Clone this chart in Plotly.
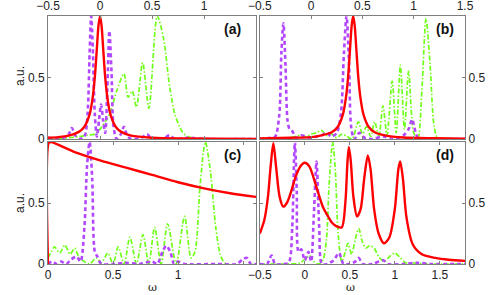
import plotly.graph_objects as go

# ---------------- data ----------------
# Panel (a)
a_red_x = [-0.5, -0.4, -0.3, -0.2, -0.15, -0.1, -0.075, -0.05, -0.03, -0.015, 0.0, 0.015, 0.03, 0.05, 0.075, 0.1, 0.15, 0.2, 0.3, 0.5, 0.8, 1.5]
a_red_y = [0.01, 0.015, 0.027, 0.06, 0.1, 0.2, 0.31, 0.5, 0.74, 0.92, 1.0, 0.92, 0.74, 0.5, 0.31, 0.2, 0.1, 0.06, 0.027, 0.01, 0.004, 0.001]
a_pur_x = [-0.5, -0.35, -0.3, -0.27, -0.24, -0.2, -0.15, -0.12, -0.1, -0.085, -0.07, -0.05, -0.03, -0.01, 0.01, 0.03, 0.05, 0.07, 0.09, 0.11, 0.13, 0.16, 0.2, 0.23, 0.26, 0.3, 0.4, 0.45, 0.5, 0.6, 0.67, 0.72, 0.85, 1.0, 1.5]
a_pur_y = [0.01, 0.01, 0.04, 0.09, 0.03, 0.0, 0.02, 0.2, 0.7, 1.0, 0.75, 0.2, 0.02, 0.15, 0.28, 0.15, 0.05, 0.4, 0.88, 0.55, 0.1, 0.0, 0.04, 0.1, 0.03, 0.0, 0.01, 0.04, 0.0, 0.0, 0.03, 0.0, 0.01, 0.0, 0.0]
a_grn_x = [-0.5, -0.3, -0.2, -0.13, -0.05, 0.0, 0.05, 0.1, 0.16, 0.23, 0.27, 0.31, 0.35, 0.41, 0.47, 0.55, 0.61, 0.67, 0.72, 0.79, 0.84, 0.95, 1.5]
a_grn_y = [0.0, 0.01, 0.02, 0.03, 0.04, 0.08, 0.14, 0.22, 0.39, 0.53, 0.34, 0.39, 0.26, 0.62, 0.25, 1.0, 0.82, 0.42, 0.2, 0.06, 0.02, 0.005, 0.0]

# Panel (b)
b_red_x = [-0.5, -0.2, 0.0, 0.1, 0.2, 0.26, 0.31, 0.34, 0.36, 0.38, 0.395, 0.41, 0.425, 0.44, 0.46, 0.48, 0.51, 0.56, 0.62, 0.72, 0.9, 1.2, 1.5]
b_red_y = [0.005, 0.01, 0.015, 0.03, 0.055, 0.1, 0.2, 0.34, 0.5, 0.74, 0.92, 1.0, 0.92, 0.74, 0.5, 0.34, 0.2, 0.1, 0.055, 0.03, 0.012, 0.006, 0.003]
b_pur_x = [-0.5, -0.4, -0.35, -0.31, -0.29, -0.27, -0.25, -0.23, -0.21, -0.18, -0.15, -0.1, -0.05, 0.0, 0.05, 0.1, 0.15, 0.2, 0.25, 0.29, 0.32, 0.345, 0.37, 0.39, 0.42, 0.47, 0.52, 0.6, 0.7, 0.8, 0.9, 0.95, 0.985, 1.02, 1.05, 1.2, 1.5]
b_pur_y = [0.0, 0.01, 0.02, 0.2, 0.7, 0.94, 0.6, 0.15, 0.08, 0.06, 0.01, 0.03, 0.02, 0.01, 0.02, 0.03, 0.05, 0.02, 0.05, 0.2, 0.7, 1.0, 0.6, 0.1, 0.0, 0.05, 0.01, 0.0, 0.02, 0.0, 0.03, 0.08, 0.16, 0.05, 0.0, 0.0, 0.0]
b_grn_x = [-0.5, -0.3, -0.2, -0.1, -0.05, 0.0, 0.05, 0.1, 0.15, 0.2, 0.25, 0.3, 0.35, 0.4, 0.46, 0.5, 0.54, 0.58, 0.62, 0.66, 0.70, 0.74, 0.79, 0.83, 0.87, 0.91, 0.95, 1.0, 1.04, 1.08, 1.12, 1.16, 1.2, 1.24, 1.5]
b_grn_y = [0.0, 0.0, 0.01, 0.03, 0.02, 0.04, 0.05, 0.07, 0.03, 0.04, 0.01, 0.04, 0.02, 0.0, 0.14, 0.04, 0.1, 0.02, 0.14, 0.02, 0.27, 0.03, 0.47, 0.05, 0.6, 0.08, 0.55, 0.05, 0.0, 0.4, 0.98, 0.6, 0.1, 0.0, 0.0]

# Panel (c)
c_red_x = [0.0, 0.005, 0.02, 0.2, 0.4, 0.6, 0.8, 1.0, 1.2, 1.4, 1.6]
c_red_y = [0.0, 0.99, 1.0, 0.92, 0.85, 0.79, 0.73, 0.67, 0.62, 0.58, 0.55]
c_pur_x = [0.0, 0.03, 0.07, 0.1, 0.14, 0.18, 0.22, 0.25, 0.28, 0.3, 0.32, 0.34, 0.36, 0.38, 0.41, 0.5, 0.6, 0.7, 0.8, 0.84, 0.88, 0.91, 0.94, 0.97, 1.0, 1.05, 1.3, 1.45, 1.5, 1.53, 1.56, 1.6]
c_pur_y = [0.0, 0.02, 0.0, 0.02, 0.0, 0.04, 0.06, 0.02, 0.3, 0.8, 1.0, 0.7, 0.1, 0.06, 0.0, 0.0, 0.01, 0.0, 0.02, 0.0, 0.1, 0.15, 0.1, 0.0, 0.02, 0.0, 0.0, 0.0, 0.04, 0.05, 0.0, 0.0]
c_grn_x = [0.0, 0.025, 0.05, 0.09, 0.13, 0.17, 0.205, 0.24, 0.28, 0.32, 0.37, 0.41, 0.46, 0.5, 0.54, 0.585, 0.63, 0.68, 0.73, 0.775, 0.82, 0.87, 0.92, 0.985, 1.05, 1.1, 1.13, 1.17, 1.21, 1.25, 1.29, 1.33, 1.37, 1.6]
c_grn_y = [0.05, 0.1, 0.14, 0.09, 0.155, 0.08, 0.13, 0.05, 0.02, 0.0, 0.05, 0.01, 0.09, 0.0, 0.14, 0.0, 0.22, 0.0, 0.24, 0.0, 0.30, 0.0, 0.33, 0.0, 0.39, 0.05, 0.1, 0.65, 1.0, 0.75, 0.3, 0.06, 0.0, 0.0]

# Panel (d)
d_red_x = [-0.5, -0.45, -0.41, -0.38, -0.35, -0.32, -0.28, -0.24, -0.2, -0.15, -0.1, -0.05, 0.0, 0.05, 0.1, 0.15, 0.2, 0.25, 0.3, 0.35, 0.41, 0.45, 0.475, 0.49, 0.51, 0.54, 0.58, 0.62, 0.66, 0.7, 0.73, 0.77, 0.82, 0.88, 0.94, 1.0, 1.04, 1.06, 1.09, 1.13, 1.2, 1.3, 1.45, 1.6, 1.8]
d_red_y = [0.25, 0.36, 0.55, 0.8, 0.99, 0.8, 0.55, 0.47, 0.5, 0.6, 0.72, 0.8, 0.83, 0.8, 0.7, 0.58, 0.47, 0.4, 0.34, 0.31, 0.3, 0.5, 0.85, 0.96, 0.85, 0.55, 0.39, 0.45, 0.7, 0.89, 0.78, 0.45, 0.25, 0.17, 0.22, 0.45, 0.78, 0.84, 0.7, 0.38, 0.16, 0.08, 0.05, 0.035, 0.025]
d_pur_x = [-0.5, -0.42, -0.37, -0.33, -0.25, -0.18, -0.14, -0.12, -0.11, -0.09, -0.07, -0.04, 0.0, 0.04, 0.07, 0.1, 0.13, 0.16, 0.19, 0.25, 0.32, 0.38, 0.43, 0.5, 0.56, 0.6, 0.64, 0.75, 0.87, 0.92, 1.1, 1.25, 1.4, 1.8]
d_pur_y = [0.0, 0.0, 0.07, 0.0, 0.0, 0.01, 0.3, 0.85, 1.0, 0.6, 0.1, 0.12, 0.03, 0.1, 0.02, 0.4, 0.84, 0.3, 0.0, 0.0, 0.03, 0.09, 0.0, 0.0, 0.02, 0.05, 0.0, 0.0, 0.03, 0.0, 0.0, 0.01, 0.0, 0.0]
d_grn_x = [-0.5, -0.2, -0.05, 0.0, 0.05, 0.1, 0.15, 0.2, 0.24, 0.27, 0.31, 0.34, 0.37, 0.41, 0.45, 0.48, 0.52, 0.56, 0.6, 0.64, 0.68, 0.72, 0.77, 0.82, 0.88, 0.94, 1.0, 1.05, 1.12, 1.2, 1.35, 1.8]
d_grn_y = [0.0, 0.0, 0.01, 0.04, 0.07, 0.02, 0.0, 0.03, 0.2, 0.65, 1.0, 0.75, 0.25, 0.02, 0.1, 0.17, 0.08, 0.2, 0.29, 0.18, 0.13, 0.15, 0.13, 0.06, 0.02, 0.06, 0.09, 0.06, 0.01, 0.01, 0.0, 0.0]

panel_labels = ["(a)", "(b)", "(c)", "(d)"]

# ---------------- styling ----------------
RED = "#ff0000"
PUR = "#b347ff"
GRN = "#70ff1a"
AX = "#7f7f7f"
FONT = "Liberation Sans, Arial, sans-serif"

fig = go.Figure()

panels = [
    (a_red_x, a_red_y, a_pur_x, a_pur_y, a_grn_x, a_grn_y, "x", "y"),
    (b_red_x, b_red_y, b_pur_x, b_pur_y, b_grn_x, b_grn_y, "x2", "y2"),
    (c_red_x, c_red_y, c_pur_x, c_pur_y, c_grn_x, c_grn_y, "x3", "y3"),
    (d_red_x, d_red_y, d_pur_x, d_pur_y, d_grn_x, d_grn_y, "x4", "y4"),
]

for rx, ry, px, py, gx, gy, xa, ya in panels:
    fig.add_trace(go.Scatter(x=gx, y=gy, mode="lines", xaxis=xa, yaxis=ya,
                             line=dict(color=GRN, width=1.7, dash="5px,2px,1.5px,2px", shape="spline", smoothing=0.8),
                             showlegend=False, hoverinfo="skip"))
    fig.add_trace(go.Scatter(x=px, y=py, mode="lines", xaxis=xa, yaxis=ya,
                             line=dict(color=PUR, width=2.6, dash="4px,3px", shape="spline", smoothing=0.8),
                             showlegend=False, hoverinfo="skip"))
    fig.add_trace(go.Scatter(x=rx, y=ry, mode="lines", xaxis=xa, yaxis=ya,
                             line=dict(color=RED, width=2.4, shape="spline", smoothing=0.8),
                             showlegend=False, hoverinfo="skip"))

common = dict(showline=True, mirror="ticks", linecolor=AX, linewidth=1, automargin=False,
              ticks="inside", ticklen=3, tickcolor=AX, showgrid=False, zeroline=False,
              tickfont=dict(family=FONT, size=12, color="#222"))

TOP = 16
BOT = 264
H = 295
plot_h = BOT - TOP
xdom_l = [0.0, 0.499]
xdom_r = [0.508, 1.0]
ydom_t = [(BOT - 139) / plot_h, 1.0]
ydom_b = [0.0, (BOT - 142) / plot_h]

fig.update_layout(
    width=491, height=H,
    margin=dict(l=48, r=26, t=TOP, b=H - BOT, autoexpand=False),
    paper_bgcolor="white", plot_bgcolor="white",
    font=dict(family=FONT, size=12, color="#222"),
    xaxis=dict(domain=xdom_l, anchor="y", range=[-0.5, 1.5], side="top",
               tickvals=[-0.5, 0, 0.5, 1, 1.5], ticktext=["−0.5", "0", "0.5", "1", ""], **common),
    yaxis=dict(domain=ydom_t, anchor="x", range=[0, 1], side="left",
               tickvals=[0, 0.5, 1], ticktext=["0", "0.5", ""], **common),
    xaxis2=dict(domain=xdom_r, anchor="y2", range=[-0.5, 1.5], side="top",
                tickvals=[-0.5, 0, 0.5, 1, 1.5], ticktext=["−0.5", "0", "0.5", "1", "1.5"], **common),
    yaxis2=dict(domain=ydom_t, anchor="x2", range=[0, 1], side="right",
                tickvals=[0, 0.5, 1], ticktext=["0", "0.5", ""], **common),
    xaxis3=dict(domain=xdom_l, anchor="y3", range=[0, 1.6], side="bottom",
                tickvals=[0, 0.5, 1, 1.5], ticktext=["0", "0.5", "1", ""], **common),
    yaxis3=dict(domain=ydom_b, anchor="x3", range=[0, 1], side="left",
                tickvals=[0, 0.5, 1], ticktext=["0", "0.5", ""], **common),
    xaxis4=dict(domain=xdom_r, anchor="y4", range=[-0.5, 1.78], side="bottom",
                tickvals=[-0.5, 0, 0.5, 1, 1.5], ticktext=["−0.5", "0", "0.5", "1", "1.5"], **common),
    yaxis4=dict(domain=ydom_b, anchor="x4", range=[0, 1], side="right",
                tickvals=[0, 0.5, 1], ticktext=["0", "0.5", ""], **common),
)

def py2paper(py):
    return (BOT - py) / plot_h

def px2paper(px):
    return (px - 48) / (491 - 48 - 26)

ann = []
label_pos = [(232, 29), (445, 29), (232, 155), (445, 155)]
for lab, (x, y) in zip(panel_labels, label_pos):
    ann.append(dict(text="<b>%s</b>" % lab, x=px2paper(x), y=py2paper(y), xanchor="center", yanchor="middle",
                    xref="paper", yref="paper",
                    showarrow=False, font=dict(family=FONT, size=14, color="#111")))
for py in (76, 203):
    ann.append(dict(text="a.u.", x=px2paper(20), y=py2paper(py), xanchor="center", yanchor="middle",
                    xref="paper", yref="paper", textangle=-90,
                    showarrow=False, font=dict(family=FONT, size=12, color="#222")))
for px in (152, 350):
    ann.append(dict(text="ω", x=px2paper(px), y=py2paper(295), xanchor="center", yanchor="bottom",
                    xref="paper", yref="paper", showarrow=False, borderpad=0,
                    font=dict(family="DejaVu Serif, serif", size=11, color="#222")))
fig.update_layout(annotations=ann)

fig.write_html("out.html", config={"displayModeBar": False},
               post_script="document.body.style.margin='0';document.body.style.overflow='hidden';")
